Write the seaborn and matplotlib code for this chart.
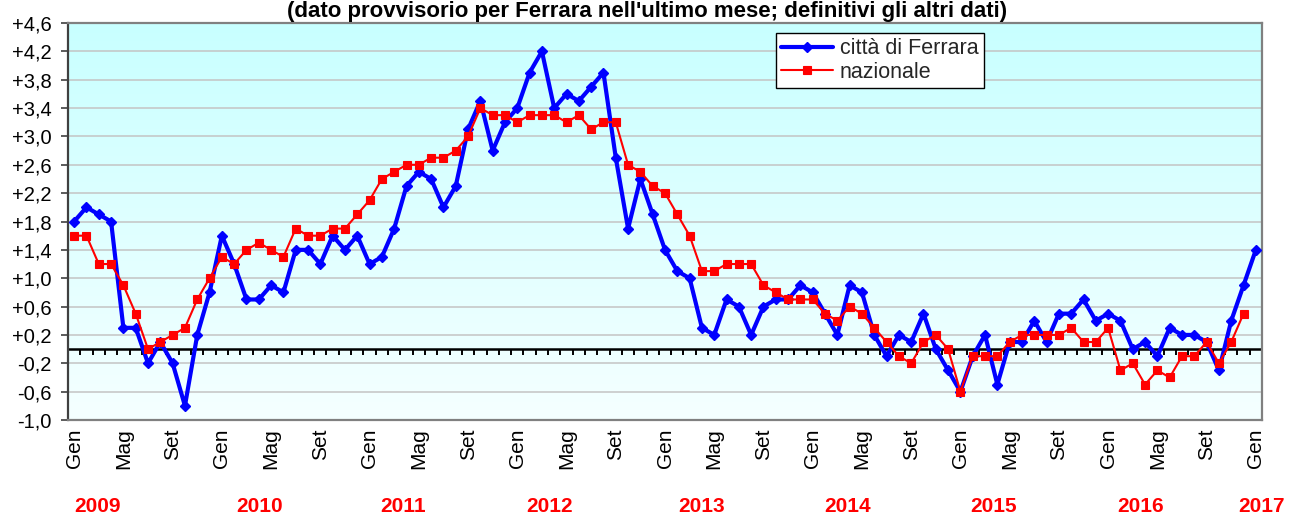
import numpy as np
import pandas as pd
import matplotlib
matplotlib.use("Agg")
import matplotlib.pyplot as plt
import matplotlib.transforms as mtransforms
from matplotlib.colors import LinearSegmentedColormap
from matplotlib.ticker import FuncFormatter
import seaborn as sns

# ---------------- data ----------------
ferrara = [
    1.8, 2.0, 1.9, 1.8, 0.3, 0.3, -0.2, 0.1, -0.2, -0.8, 0.2, 0.8,      # 2009
    1.6, 1.2, 0.7, 0.7, 0.9, 0.8, 1.4, 1.4, 1.2, 1.6, 1.4, 1.6,         # 2010
    1.2, 1.3, 1.7, 2.3, 2.5, 2.4, 2.0, 2.3, 3.1, 3.5, 2.8, 3.2,         # 2011
    3.4, 3.9, 4.2, 3.4, 3.6, 3.5, 3.7, 3.9, 2.7, 1.7, 2.4, 1.9,         # 2012
    1.4, 1.1, 1.0, 0.3, 0.2, 0.7, 0.6, 0.2, 0.6, 0.7, 0.7, 0.9,         # 2013
    0.8, 0.5, 0.2, 0.9, 0.8, 0.2, -0.1, 0.2, 0.1, 0.5, 0.0, -0.3,       # 2014
    -0.6, -0.1, 0.2, -0.5, 0.1, 0.1, 0.4, 0.1, 0.5, 0.5, 0.7, 0.4,      # 2015
    0.5, 0.4, 0.0, 0.1, -0.1, 0.3, 0.2, 0.2, 0.1, -0.3, 0.4, 0.9,       # 2016
    1.4,                                                                # 2017
]
nazionale = [
    1.6, 1.6, 1.2, 1.2, 0.9, 0.5, 0.0, 0.1, 0.2, 0.3, 0.7, 1.0,         # 2009
    1.3, 1.2, 1.4, 1.5, 1.4, 1.3, 1.7, 1.6, 1.6, 1.7, 1.7, 1.9,         # 2010
    2.1, 2.4, 2.5, 2.6, 2.6, 2.7, 2.7, 2.8, 3.0, 3.4, 3.3, 3.3,         # 2011
    3.2, 3.3, 3.3, 3.3, 3.2, 3.3, 3.1, 3.2, 3.2, 2.6, 2.5, 2.3,         # 2012
    2.2, 1.9, 1.6, 1.1, 1.1, 1.2, 1.2, 1.2, 0.9, 0.8, 0.7, 0.7,         # 2013
    0.7, 0.5, 0.4, 0.6, 0.5, 0.3, 0.1, -0.1, -0.2, 0.1, 0.2, 0.0,       # 2014
    -0.6, -0.1, -0.1, -0.1, 0.1, 0.2, 0.2, 0.2, 0.2, 0.3, 0.1, 0.1,     # 2015
    0.3, -0.3, -0.2, -0.5, -0.3, -0.4, -0.1, -0.1, 0.1, -0.2, 0.1, 0.5, # 2016
]
month_tick_labels = ["Gen", "Mag", "Set"]
year_labels = ["2009", "2010", "2011", "2012", "2013", "2014", "2015", "2016", "2017"]
series_names = ["città di Ferrara", "nazionale"]
title_text = "(dato provvisorio per Ferrara nell'ultimo mese; definitivi gli altri dati)"

# ---------------- layout ----------------
year_label_x = [1.9, 15.1, 26.7, 38.6, 51.0, 62.8, 74.7, 86.6, 96.5]
W, H = 1289, 519

sns.set_theme(style="white")
plt.rcParams["font.family"] = ["Liberation Sans", "DejaVu Sans"]

fig = plt.figure(figsize=(W / 100, H / 100), dpi=100)
fig.patch.set_facecolor("white")
ax = fig.add_axes([68 / W, 1 - 420 / H, (1262 - 68) / W, (420 - 23) / H])

# background gradient of the plot area
grad = np.linspace(0, 1, 256).reshape(-1, 1)
cmap = LinearSegmentedColormap.from_list("bg", ["#C8FFFF", "#F5FFFF"])
ax.imshow(grad, extent=[0, 1, 0, 1], transform=ax.transAxes, cmap=cmap,
          aspect="auto", zorder=0, interpolation="bilinear")

n = len(ferrara)
df_f = pd.DataFrame({"mese": np.arange(n), "valore": ferrara})
df_n = pd.DataFrame({"mese": np.arange(len(nazionale)), "valore": nazionale})

sns.lineplot(data=df_f, x="mese", y="valore", ax=ax, color="#0000FF", linewidth=3.0,
             marker="D", markersize=5.2, markeredgecolor="#0000FF",
             markerfacecolor="#0000FF", markeredgewidth=1.0,
             label=series_names[0], zorder=3)
sns.lineplot(data=df_n, x="mese", y="valore", ax=ax, color="#FF0000", linewidth=1.5,
             marker="s", markersize=5.2, markeredgecolor="#FF0000",
             markerfacecolor="#FF0000", markeredgewidth=0.8,
             label=series_names[1], zorder=4)

# zero axis line with category-boundary tick marks
ax.axhline(0, color="black", linewidth=1.8, zorder=2)
bounds = np.arange(n + 1) - 0.5
ax.plot(bounds, np.zeros_like(bounds), linestyle="none", marker=3, markersize=4.5,
        markeredgewidth=1.4, color="black", zorder=2)

ax.set_xlim(-0.5, n - 0.5)
ax.set_ylim(-1.0, 4.6)

yt = np.round(np.arange(-1.0, 4.61, 0.4), 1)
ax.set_yticks(yt)
ax.yaxis.set_major_formatter(FuncFormatter(lambda v, p: f"{v:+.1f}".replace(".", ",")))
ax.yaxis.grid(True, color="#C4C4C4", linewidth=1.1)
ax.set_axisbelow(True)

xt = np.arange(0, n, 4)
ax.set_xticks(xt)
ax.set_xticklabels([month_tick_labels[i % 3] for i in range(len(xt))], rotation=90)
ax.tick_params(axis="x", length=0, pad=6, labelsize=15, colors="black")
ax.tick_params(axis="y", direction="out", length=5, width=1.2, color="#404040",
               pad=7, labelsize=14.5, labelcolor="black", left=True)
ax.set_xlabel("")
ax.set_ylabel("")

for side in ["top", "right", "bottom"]:
    ax.spines[side].set_color("#808080")
    ax.spines[side].set_linewidth(1.6)
ax.spines["left"].set_color("#404040")
ax.spines["left"].set_linewidth(1.6)

leg = ax.legend(loc="upper left", bbox_to_anchor=(776 / W, 1 - 33 / H),
                bbox_transform=fig.transFigure, frameon=True, fancybox=False,
                edgecolor="black", framealpha=1, facecolor="white", fontsize=15.5,
                handlelength=2.4, handletextpad=0.3, borderpad=0.25,
                labelspacing=0.1, borderaxespad=0)
leg.get_frame().set_linewidth(1.0)

# year labels below the month labels
trans = mtransforms.blended_transform_factory(ax.transData, fig.transFigure)
for xp, yl in zip(year_label_x, year_labels):
    ax.text(xp, 1 - 507 / H, yl, transform=trans, ha="center", va="center",
            fontsize=15, fontweight="bold", color="#FF0000", clip_on=False)

fig.text(647 / W, 1 - 17.5 / H, title_text, ha="center", va="baseline",
         fontsize=16, fontweight="bold", color="black")

fig.savefig("out.png", dpi=100)
